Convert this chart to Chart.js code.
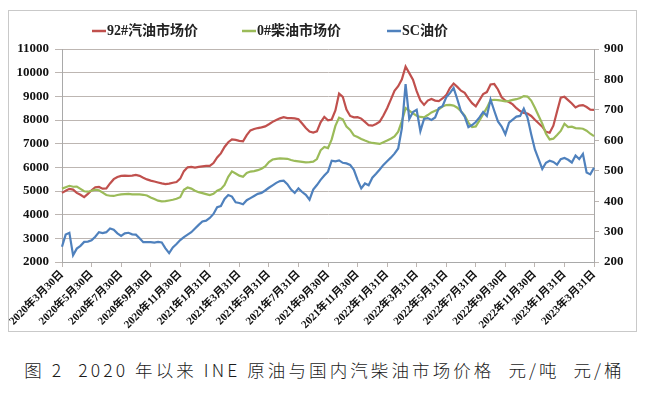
<!DOCTYPE html>
<html>
<head>
<meta charset="utf-8">
<script src="https://cdn.jsdelivr.net/npm/chart.js@4/dist/chart.umd.min.js"></script>
<style>
  html, body { margin: 0; padding: 0; background: #fff; }
  body { width: 649px; height: 394px; position: relative; overflow: hidden; }
  #wrap { position: absolute; left: 0; top: 0; width: 649px; height: 340px; }
  #caption {
    position: absolute; left: 0; top: 357px; width: 649px; text-align: center;
    font-family: "Noto Sans CJK SC", "Noto Sans", sans-serif; font-weight: 300;
    font-size: 17.5px; letter-spacing: 3.1px; color: #1a1a1a; white-space: pre;
  }
</style>
</head>
<body>
<div id="wrap"><canvas id="priceChart" width="649" height="340"></canvas></div>
<div id="caption">图 2  2020 年以来 INE 原油与国内汽柴油市场价格  元/吨  元/桶</div>
<script>
// 横轴刻度（每两个月一个），每个刻度之间 8 个采样点
const tickLabels = ['2020年3月30日', '2020年5月30日', '2020年7月30日', '2020年9月30日', '2020年11月30日',
    '2021年1月31日', '2021年3月31日', '2021年5月31日', '2021年7月31日', '2021年9月30日', '2021年11月30日',
    '2022年1月31日', '2022年3月31日', '2022年5月31日', '2022年7月31日', '2022年9月30日', '2022年11月30日',
    '2023年1月31日', '2023年3月31日'];
const stepsPerTick = 8;

// 92#汽油市场价（元/吨，左轴）
const gasoline92 = [4920, 5010, 5090, 5060, 4920, 4840, 4740, 4880, 5030, 5160, 5170, 5100, 5110, 5320, 5500, 5590,
    5640, 5650, 5640, 5650, 5680, 5640, 5560, 5490, 5440, 5400, 5360, 5320, 5290, 5310, 5350, 5380,
    5520, 5840, 6000, 6020, 5990, 6020, 6040, 6060, 6060, 6180, 6420, 6590, 6860, 7060, 7180, 7160,
    7120, 7100, 7360, 7560, 7620, 7660, 7690, 7730, 7820, 7920, 8000, 8070, 8120, 8080, 8080, 8070,
    8030, 7850, 7660, 7510, 7470, 7520, 7900, 8130, 7990, 8020, 8400, 9120, 8980, 8440, 8170, 8110,
    8120, 8060, 7920, 7780, 7760, 7830, 7930, 8190, 8500, 8860, 9230, 9430, 9720, 10260, 9980, 9700,
    9220, 8830, 8640, 8820, 8890, 8820, 8800, 8910, 9050, 9350, 9540, 9400, 9240, 9150, 8910, 8710,
    8580, 8840, 9100, 9180, 9500, 9520, 9290, 8960, 8820, 8760, 8660, 8500, 8380, 8300, 8270, 8170,
    8010, 7860, 7720, 7500, 7460, 7760, 8360, 8940, 8980, 8840, 8700, 8530, 8610, 8630, 8550, 8440, 8430];

// 0#柴油市场价（元/吨，左轴）
const diesel0 = [5100, 5160, 5220, 5180, 5190, 5090, 4990, 4970, 5010, 5060, 5030, 4930, 4830, 4800, 4790, 4830,
    4860, 4870, 4880, 4860, 4860, 4860, 4840, 4810, 4730, 4660, 4590, 4560, 4570, 4600, 4630, 4670,
    4740, 5050, 5150, 5100, 5010, 4950, 4910, 4870, 4830, 4880, 5010, 5080, 5260, 5600, 5830, 5740,
    5650, 5600, 5760, 5820, 5840, 5880, 5940, 6040, 6220, 6330, 6360, 6380, 6370, 6360, 6310, 6270,
    6250, 6230, 6210, 6220, 6240, 6350, 6720, 6860, 6810, 7180, 7750, 8100, 8030, 7720, 7580, 7350,
    7280, 7200, 7130, 7070, 7030, 7010, 6990, 7060, 7130, 7210, 7310, 7510, 7950, 8500, 8390, 8280,
    8180, 8130, 8110, 8210, 8320, 8390, 8450, 8570, 8630, 8640, 8610, 8520, 8370, 8180, 7890, 7700,
    7730, 7980, 8250, 8510, 8830, 8855, 8840, 8820, 8790, 8810, 8850, 8880, 8930, 9010, 8990, 8820,
    8520, 8180, 7850, 7420, 7180, 7210, 7370, 7540, 7840, 7700, 7720, 7660, 7650, 7630, 7550, 7420, 7320];

// SC油价（元/桶，右轴）
const scCrude = [250, 290, 296, 222, 244, 253, 266, 267, 271, 283, 298, 295, 298, 310, 306, 294,
    286, 294, 296, 291, 290, 278, 265, 265, 265, 264, 266, 264, 245, 229, 248, 259,
    272, 282, 290, 298, 310, 322, 333, 336, 345, 358, 380, 384, 407, 420, 415, 396,
    394, 390, 403, 410, 417, 424, 427, 435, 444, 452, 460, 466, 467, 456, 438, 427,
    442, 430, 421, 405, 438, 453, 470, 484, 497, 533, 531, 534, 526, 524, 519, 503,
    470, 442, 458, 452, 477, 490, 504, 519, 531, 543, 556, 573, 640, 785, 670, 693,
    700, 630, 670, 673, 667, 675, 706, 712, 741, 755, 772, 735, 695, 678, 643, 650,
    660, 675, 693, 680, 734, 697, 662, 645, 620, 658, 668, 678, 680, 704, 675, 620,
    570, 538, 506, 526, 533, 529, 520, 538, 542, 536, 527, 550, 538, 555, 494, 488, 510];

const labels = [];
for (let i = 0; i < gasoline92.length; i++) {
    labels.push(i % stepsPerTick === 0 ? tickLabels[i / stepsPerTick] : '');
}

const serifBold = { family: '"Liberation Serif", "Times New Roman", "Noto Sans CJK SC", serif', weight: 'bold' };
const gridGray = '#bdb6b2';

// 外框 + 自定义图例
const framePlugin = {
    id: 'frame',
    beforeDraw(chart) {
        const c = chart.ctx;
        c.save();
        c.fillStyle = '#fff';
        c.fillRect(0, 0, chart.width, chart.height);
        c.strokeStyle = '#c9c9c9';
        c.lineWidth = 1;
        c.strokeRect(8.5, 10.5, 628, 321);
        c.restore();
    },
    afterDraw(chart) {
        const c = chart.ctx;
        const starts = [92, 242, 387];
        c.save();
        c.font = 'bold 14px "Liberation Serif", "Noto Sans CJK SC", serif';
        c.textBaseline = 'middle';
        chart.data.datasets.forEach((ds, k) => {
            const x = starts[k], y = 31;
            c.strokeStyle = ds.borderColor;
            c.lineWidth = 2.5;
            c.beginPath();
            c.moveTo(x, y);
            c.lineTo(x + 14, y);
            c.stroke();
            c.fillStyle = '#222';
            c.fillText(ds.label, x + 15, y);
        });
        c.restore();
    }
};

new Chart(document.getElementById('priceChart'), {
    type: 'line',
    data: {
        labels: labels,
        datasets: [
            { label: '92#汽油市场价', data: gasoline92, borderColor: '#c0504d', yAxisID: 'y', order: 2 },
            { label: '0#柴油市场价', data: diesel0, borderColor: '#9bbb59', yAxisID: 'y', order: 1 },
            { label: 'SC油价', data: scCrude, borderColor: '#4f81bd', yAxisID: 'y1', order: 0 }
        ]
    },
    options: {
        responsive: false,
        animation: false,
        layout: { padding: { top: 49, left: 0, right: 0, bottom: 0 } },
        elements: {
            line: { borderWidth: 2.2, tension: 0 },
            point: { radius: 0 }
        },
        plugins: { legend: { display: false }, tooltip: { enabled: false } },
        scales: {
            x: {
                offset: false,
                afterBuildTicks: (scale) => { scale.ticks = scale.ticks.filter(t => t.value % stepsPerTick === 0); },
                afterFit: (scale) => { scale.height = 78; },
                ticks: {
                    autoSkip: false, minRotation: 45, maxRotation: 45, padding: 1,
                    color: '#111', font: { ...serifBold, size: 11 }
                },
                grid: { drawOnChartArea: false, drawTicks: true, tickLength: 5, color: gridGray },
                border: { color: '#a9a9a9' }
            },
            y: {
                position: 'left',
                min: 2000, max: 11000,
                afterFit: (scale) => { scale.width = 62; },
                ticks: { stepSize: 1000, padding: 6, color: '#111', font: { ...serifBold, size: 13 }, callback: v => String(v) },
                grid: { color: gridGray, tickLength: 7 },
                border: { color: '#a9a9a9' }
            },
            y1: {
                position: 'right',
                min: 200, max: 900,
                afterFit: (scale) => { scale.width = 55; },
                ticks: { stepSize: 100, padding: 5, color: '#111', font: { ...serifBold, size: 13 }, callback: v => String(v) },
                grid: { drawOnChartArea: false, tickLength: 5, color: gridGray },
                border: { color: '#a9a9a9' }
            }
        }
    },
    plugins: [framePlugin]
});
</script>
</body>
</html>
